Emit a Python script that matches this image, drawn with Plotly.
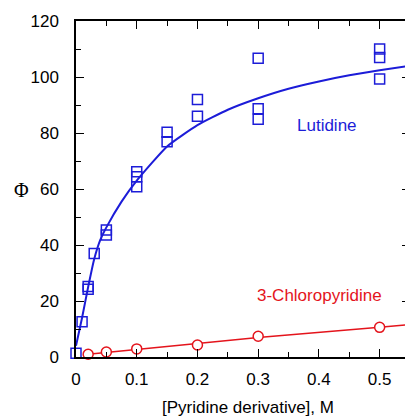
import plotly.graph_objects as go

# Lutidine data (squares)
lut_x = [0, 0.01, 0.02, 0.02, 0.03, 0.05, 0.05, 0.1, 0.1, 0.1, 0.15, 0.15,
         0.2, 0.2, 0.3, 0.3, 0.3, 0.5, 0.5, 0.5]
lut_y = [1.3, 12.6, 24.2, 25.2, 37.0, 43.6, 45.4, 60.8, 64.4, 66.2, 76.9, 80.3,
         86.0, 92.0, 84.9, 88.7, 106.7, 99.3, 107.0, 110.0]

# Lutidine fitted curve
lut_fit_x = [0, 0.01, 0.02, 0.03, 0.04, 0.05, 0.075, 0.1, 0.15, 0.2, 0.25,
             0.3, 0.35, 0.4, 0.45, 0.5, 0.55]
lut_fit_y = [4.0, 14.0, 25.0, 35.0, 41.8, 46.3, 55.5, 63.0, 75.2, 82.8, 88.3,
             92.4, 95.8, 98.4, 100.6, 102.4, 104.0]

# 3-Chloropyridine data (circles)
chl_x = [0.02, 0.05, 0.1, 0.2, 0.3, 0.5]
chl_y = [1.0, 1.8, 2.9, 4.3, 7.4, 10.6]

chl_fit_x = [0.02, 0.1, 0.2, 0.3, 0.5, 0.55]
chl_fit_y = [1.0, 2.7, 4.9, 7.0, 10.6, 11.6]

x_ticks = [0, 0.1, 0.2, 0.3, 0.4, 0.5]
x_tick_text = ["0", "0.1", "0.2", "0.3", "0.4", "0.5"]
y_ticks = [0, 20, 40, 60, 80, 100, 120]

BLUE = "#1c1cd8"
RED = "#e4141c"
FONT = "Liberation Sans, Arial, sans-serif"

# figure is a bit wider than the window so the right frame falls outside it
W, H = 413, 416
L, R, T, B = 76, 1, 21, 59
pw = W - L - R
ph = H - T - B

fig = go.Figure()
fig.add_trace(go.Scatter(x=lut_fit_x, y=lut_fit_y, mode="lines",
                         line=dict(color=BLUE, width=2, shape="spline", smoothing=0.5),
                         hoverinfo="skip"))
fig.add_trace(go.Scatter(x=chl_fit_x, y=chl_fit_y, mode="lines",
                         line=dict(color=RED, width=1.5),
                         hoverinfo="skip"))
fig.add_trace(go.Scatter(x=lut_x, y=lut_y, mode="markers",
                         marker=dict(symbol="square-open", size=10, color=BLUE,
                                     line=dict(color=BLUE, width=1.5)),
                         cliponaxis=False))
fig.add_trace(go.Scatter(x=chl_x, y=chl_y, mode="markers",
                         marker=dict(symbol="circle", size=10, color="white",
                                     line=dict(color=RED, width=1.5)),
                         cliponaxis=False))


def px(X, Y):
    # screen pixel -> paper coords
    return (X - L) / pw, (H - B - Y) / ph


ann_specs = [
    ("Lutidine", 328, 125, BLUE, FONT, 17),
    ("3-Chloropyridine", 321, 295, RED, FONT, 17),
    ("[Pyridine derivative], M", 249, 407, "black", FONT, 17),
    ("Φ", 21, 190, "black", "Liberation Serif, Times New Roman, serif", 20),
]
annotations = []
for text, X, Y, col, fam, size in ann_specs:
    ax, ay = px(X, Y)
    annotations.append(dict(text=text, x=ax, y=ay, xref="paper", yref="paper",
                            xanchor="center", yanchor="middle",
                            showarrow=False,
                            font=dict(color=col, size=size, family=fam)))

fig.update_layout(
    width=W, height=H,
    margin=dict(l=L, r=R, t=T, b=B),
    paper_bgcolor="white", plot_bgcolor="white",
    showlegend=False,
    font=dict(family=FONT, size=17, color="black"),
    xaxis=dict(range=[0, 0.55], tickvals=x_ticks, ticktext=x_tick_text,
               ticks="inside", ticklen=8, tickwidth=1.3, tickcolor="black",
               showline=True, linecolor="black", linewidth=1.5, mirror="allticks",
               showgrid=False, zeroline=False, ticklabelstandoff=6,
               minor=dict(dtick=0.05, tick0=0, ticks="inside", ticklen=5,
                          tickwidth=1.2, tickcolor="black", showgrid=False),
               tickfont=dict(size=17)),
    yaxis=dict(range=[0, 120], tickvals=y_ticks,
               ticks="inside", ticklen=8, tickwidth=1.3, tickcolor="black",
               showline=True, linecolor="black", linewidth=1.5, mirror="allticks",
               showgrid=False, zeroline=False, ticklabelstandoff=12,
               minor=dict(dtick=10, tick0=0, ticks="inside", ticklen=5,
                          tickwidth=1.2, tickcolor="black", showgrid=False),
               tickfont=dict(size=17)),
    annotations=annotations,
)

fig.write_html(
    "out.html",
    config={"displayModeBar": False},
    post_script=(
        "document.body.style.margin='0';"
        "document.body.style.overflow='hidden';"
        "document.documentElement.style.overflow='hidden';"
    ),
)
